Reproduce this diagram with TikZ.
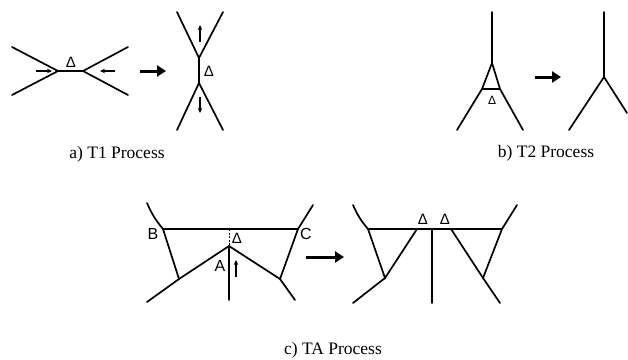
\documentclass[tikz,border=0pt]{standalone}
\usepackage{fontspec}
\setmainfont{Liberation Serif}
\newfontfamily\labfont{Liberation Sans}
\usetikzlibrary{arrows.meta}

\begin{document}
\begin{tikzpicture}[
  x=1pt, y=-1pt,
  film/.style={line width=1.7pt, line cap=round},
  push/.style={-{Stealth[length=5pt,width=4.5pt]}, line width=1.1pt},
  move/.style={-{Triangle[length=9pt,width=11pt]}, line width=3pt},
  delta/.style={font=\labfont\fontsize{15}{15}\selectfont, inner sep=0pt},
  vlab/.style={font=\labfont\fontsize{16}{16}\selectfont, inner sep=0pt},
  capt/.style={font=\fontsize{17.5}{20}\selectfont, inner sep=0pt}
]
\useasboundingbox (0,0) rectangle (628,359);

% a) T1 process
\coordinate (t1l) at (58,71);
\coordinate (t1r) at (83,71);
\draw[film] (12,47) -- (t1l) -- (12,95);
\draw[film] (128,47) -- (t1r) -- (128,95);
\draw[film] (t1l) -- (t1r);
\node[delta] (d1) at (71,62) {Δ};
\coordinate (pl0) at (36,71);  \coordinate (pl1) at (52,71);
\coordinate (pr0) at (115,71); \coordinate (pr1) at (100,71);
\draw[push] (pl0) -- (pl1);
\draw[push] (pr0) -- (pr1);
\coordinate (m1a) at (140,71); \coordinate (m1b) at (166,71);
\draw[move] (m1a) -- (m1b);

\coordinate (t1u) at (199,58);
\coordinate (t1d) at (199,83);
\draw[film] (177,12) -- (t1u) -- (223,12);
\draw[film] (177,130) -- (t1d) -- (223,130);
\draw[film] (t1u) -- (t1d);
\node[delta] (d2) at (209,71) {Δ};
\coordinate (pu0) at (200,42); \coordinate (pu1) at (200,25);
\coordinate (pd0) at (200,97); \coordinate (pd1) at (200,113);
\draw[push] (pu0) -- (pu1);
\draw[push] (pd0) -- (pd1);
\node[capt] (capa) at (117,154) {a) T1 Process};

% b) T2 process
\coordinate (t2top) at (492,63);
\coordinate (t2bl) at (482,89);
\coordinate (t2br) at (500,89);
\draw[film] (492,12) -- (t2top);
\draw[film] (457,130) -- (t2bl) -- (t2top) -- (t2br) -- (523,130);
\draw[film] (t2bl) -- (t2br);
\node[delta, font=\labfont\fontsize{12}{12}\selectfont] (d3) at (492,100) {Δ};
\coordinate (m2a) at (535,77); \coordinate (m2b) at (561,77);
\draw[move] (m2a) -- (m2b);
\coordinate (t2v) at (604,77);
\draw[film] (604,12) -- (t2v);
\draw[film] (569,130) -- (t2v) -- (627,113);
\node[capt] (capb) at (546,153) {b) T2 Process};

% c) TA process
\coordinate (B) at (163,229);
\coordinate (C) at (298,229);
\coordinate (A) at (229,246);
\coordinate (P) at (179,279);
\coordinate (Q) at (280,279);
\draw[film] (B) -- (C);
\draw[film] (147,203) to[bend right=8] (B);
\draw[film] (B) -- (P) -- (A) -- (Q) -- (C) -- (313,205);
\draw[film] (147,302) -- (P);
\draw[film] (Q) -- (295,300);
\draw[film] (A) -- (229,300);
\draw[line width=0.8pt, dash pattern=on 2pt off 1.5pt] (229,229) -- (A);
\node[vlab] (lB) at (153,234) {B};
\node[vlab] (lC) at (306,234) {C};
\node[vlab] (lA) at (220,266) {A};
\node[delta] (d4) at (237,238) {Δ};
\coordinate (pa0) at (236,277); \coordinate (pa1) at (236,260);
\draw[push] (pa0) -- (pa1);
\coordinate (m3a) at (306,257); \coordinate (m3b) at (344,257);
\draw[move] (m3a) -- (m3b);

\coordinate (L) at (368,229);
\coordinate (R) at (502,229);
\coordinate (P2) at (385,278);
\coordinate (Q2) at (483,278);
\coordinate (M1) at (417,229);
\coordinate (M2) at (432,229);
\coordinate (M3) at (451,229);
\draw[film] (L) -- (R);
\draw[film] (353,205) to[bend right=8] (L);
\draw[film] (L) -- (P2) -- (M1);
\draw[film] (353,303) -- (P2);
\draw[film] (M2) -- (432,303);
\draw[film] (M3) -- (Q2) -- (500,303);
\draw[film] (Q2) -- (R) -- (517,205);
\node[delta] (d5) at (423,219) {Δ};
\node[delta] (d6) at (445,219) {Δ};
\node[capt] (capc) at (333,350) {c) TA Process};
\end{tikzpicture}
\end{document}
